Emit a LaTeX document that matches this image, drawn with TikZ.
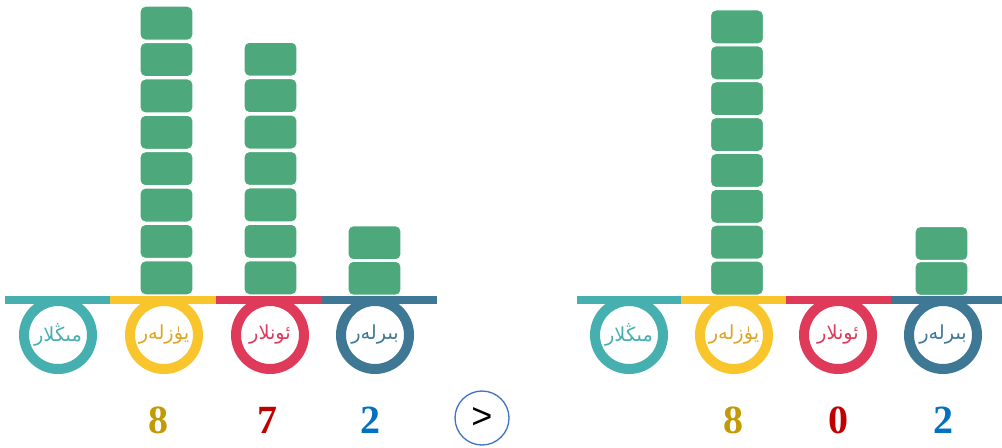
\documentclass[tikz,border=0pt]{standalone}
\usepackage{fontspec}
\setmainfont{Liberation Serif}
\newfontfamily\uyfont[Script=Arabic]{DejaVu Sans}
\newfontfamily\belgefont{Liberation Sans}
\TeXXeTstate=1
\usetikzlibrary{positioning,calc}

\definecolor{mingc}{HTML}{46AFB0}
\definecolor{yuzc}{HTML}{F9C52C}
\definecolor{yuzt}{HTML}{DDA520}
\definecolor{onc}{HTML}{E03A5A}
\definecolor{birc}{HTML}{3E7895}
\definecolor{blokc}{HTML}{4DA97B}
\definecolor{sekkiz}{HTML}{C39A05}
\definecolor{yetti}{HTML}{C00000}
\definecolor{ikki}{HTML}{0070C0}
\definecolor{selis}{HTML}{4472C4}

\pgfdeclareradialshading{ichki}{\pgfpoint{6bp}{-6bp}}{color(0bp)=(white); color(30bp)=(white); color(46bp)=(black!18); color(50bp)=(black!18)}

\tikzset{
  blok/.style={draw=white, line width=0.8pt, fill=blokc, rounded corners=4pt,
    minimum width=39.75pt, minimum height=25.5pt, inner sep=0pt},
  halqa/.style={circle, draw=#1, line width=7.5pt, minimum size=51pt, inner sep=0pt,
    shading=ichki},
  xet/.style={text=#1, font=\uyfont\fontsize{14.5}{14.5}\selectfont},
  san/.style={text=#1, font=\bfseries\fontsize{30}{30}\selectfont},
  bar/.style={line width=6pt, draw=#1}
}

\begin{document}
\begin{tikzpicture}[x=0.75pt,y=0.75pt,yscale=-1,xscale=1]
\useasboundingbox (0,0) rectangle (1002,447);

%Blocks
\foreach \cx/\yy/\n/\nm in {166.5/5/8/a, 270.5/41/7/b, 374.5/225/2/c, 737/9/8/d, 941.5/226/2/e}{
  \foreach \i in {1,...,\n}{
    \node [blok] (\nm\i) at (\cx,{296-(296-\yy)/\n*(\i-0.5)}) {};
  }
}

%Bars left
\draw [bar=mingc] (5,300) -- (110,300) ;
\draw [bar=yuzc] (110,300) -- (216,300) ;
\draw [bar=onc] (216,300) -- (322,300) ;
\draw [bar=birc] (322,300) -- (437,300) ;
%Bars right
\draw [bar=mingc] (577,300) -- (681,300) ;
\draw [bar=yuzc] (681,300) -- (786,300) ;
\draw [bar=onc] (786,300) -- (891,300) ;
\draw [bar=birc] (891,300) -- (1002,300) ;

%Circles left
\node [halqa=mingc, xet=mingc] (lming) at (58,335) {\beginR مىڭلار\endR};
\node [halqa=yuzc, xet=yuzt] (lyuz) at (164,335) {\beginR يۈزلەر\endR};
\node [halqa=onc, xet=onc] (lon) at (270,335) {\beginR ئونلار\endR};
\node [halqa=birc, xet=birc] (lbir) at (375,335) {\beginR بىرلەر\endR};
%Circles right
\node [halqa=mingc, xet=mingc] (rming) at (629,335) {\beginR مىڭلار\endR};
\node [halqa=yuzc, xet=yuzt] (ryuz) at (734,335) {\beginR يۈزلەر\endR};
\node [halqa=onc, xet=onc] (ron) at (838,335) {\beginR ئونلار\endR};
\node [halqa=birc, xet=birc] (rbir) at (943,335) {\beginR بىرلەر\endR};

% Text Node
\node [san=sekkiz] (lsan1) at (158,420) {8};
\node [san=yetti] (lsan2) at (267,420) {7};
\node [san=ikki] (lsan3) at (370,420) {2};
\node [san=sekkiz] (rsan1) at (733,420) {8};
\node [san=yetti] (rsan2) at (838,420) {0};
\node [san=ikki] (rsan3) at (943,420) {2};

% Comparison
\node [circle, draw=selis, line width=1pt, minimum size=40.5pt, inner sep=0pt,
  font=\belgefont\fontsize{27}{27}\selectfont] (belge) at (482,418) {>};
\end{tikzpicture}
\end{document}
